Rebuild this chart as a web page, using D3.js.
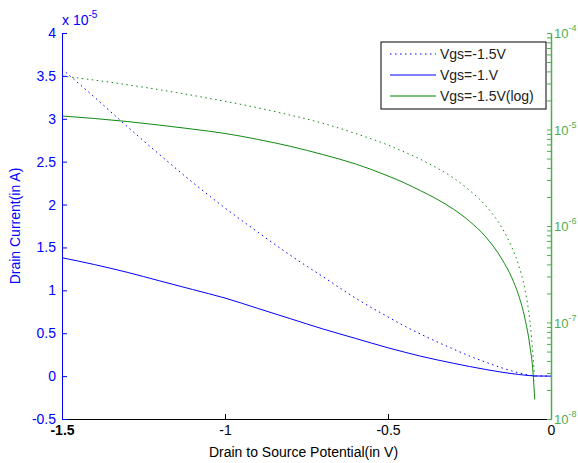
<!DOCTYPE html>
<html lang="en">
<head>
<meta charset="utf-8">
<title>Drain current</title>
<style>
  body { margin: 0; background: #fff; }
  svg { font-family: "Liberation Sans", Arial, sans-serif; }
</style>
</head>
<body>
<svg width="578" height="463"></svg>
<script src="https://d3js.org/d3.v7.min.js"></script>
<script>
// drain-source voltage (V)
var vds = [-1.5, -1.4, -1.3, -1.2, -1.1, -1.0, -0.9, -0.8, -0.7, -0.6, -0.5, -0.45, -0.4,
           -0.35, -0.3, -0.25, -0.2, -0.15, -0.12, -0.1, -0.08, -0.065, -0.055, -0.05, 0];
// drain current, units of 1e-5 A
var idVgs15 = [3.58, 3.25, 2.91, 2.58, 2.26, 1.96, 1.68, 1.41, 1.16, 0.91, 0.69, 0.585, 0.49,
               0.40, 0.316, 0.234, 0.162, 0.095, 0.060, 0.040, 0.022, 0.0105, 0.0045, 0.0025, 0];
var idVgs10 = [1.38, 1.30, 1.21, 1.11, 1.01, 0.91, 0.79, 0.67, 0.55, 0.44, 0.33, 0.28, 0.232,
               0.19, 0.15, 0.112, 0.077, 0.045, 0.029, 0.0195, 0.011, 0.0058, 0.0030, 0.0016, 0];
var xTicks = [-1.5, -1, -0.5, 0];
var yTicks = [-0.5, 0, 0.5, 1, 1.5, 2, 2.5, 3, 3.5, 4];
var logMajor = [1e-8, 1e-7, 1e-6, 1e-5, 1e-4];
var legendLabels = ["Vgs=-1.5V", "Vgs=-1.V", "Vgs=-1.5V(log)"];

var blue = "#0000ff", green = "#108a10", greenAxis = "#4fae4f";

var svg = d3.select("svg"),
    margin = {top: 33, right: 27, bottom: 44, left: 62},
    width = svg.attr("width") - margin.left - margin.right,
    height = svg.attr("height") - margin.top - margin.bottom;

var x = d3.scaleLinear().domain([-1.5, 0]).range([0, width]),
    y = d3.scaleLinear().domain([-0.5, 4]).range([height, 0]),
    yLog = d3.scaleLog().domain([1e-8, 1e-4]).range([height, 0]);

var g = svg.append("g")
  .attr("transform", "translate(" + margin.left + "," + margin.top + ")");

var pts = function(arr) { return vds.map(function(v, i) { return [v, arr[i]]; }); };

var lin = d3.line().curve(d3.curveMonotoneX)
  .x(function(d) { return x(d[0]); }).y(function(d) { return y(d[1]); });
var logLine = d3.line().curve(d3.curveMonotoneX)
  .x(function(d) { return x(d[0]); }).y(function(d) { return yLog(d[1] * 1e-5); });

// log curves (right axis)
g.append("path").datum(pts(idVgs15).filter(function(d) { return d[1] > 0; }))
  .attr("fill", "none").attr("stroke", green).attr("stroke-dasharray", "1.5,3.5")
  .attr("d", logLine);
g.append("path").datum(pts(idVgs10).filter(function(d) { return d[1] > 0; }))
  .attr("fill", "none").attr("stroke", green).attr("d", logLine);

// linear curves (left axis)
g.append("path").datum(pts(idVgs15))
  .attr("fill", "none").attr("stroke", blue).attr("stroke-dasharray", "1.5,3.5")
  .attr("d", lin);
g.append("path").datum(pts(idVgs10))
  .attr("fill", "none").attr("stroke", blue).attr("d", lin);

// axes
var ax = g.append("g")
  .attr("transform", "translate(0," + height + ")")
  .call(d3.axisBottom(x).tickValues(xTicks).tickSizeInner(-5).tickSizeOuter(0)
        .tickPadding(6).tickFormat(function(d) { return String(d); }));
ax.selectAll("text").attr("fill", "#000").style("font-size", "14px")
  .style("font-weight", function(d) { return d === -1.5 ? "bold" : "normal"; });
ax.select(".domain").attr("stroke", "#000");
ax.selectAll(".tick line").attr("stroke", "#000");

var ay = g.append("g")
  .call(d3.axisLeft(y).tickValues(yTicks).tickSizeInner(-5).tickSizeOuter(0)
        .tickPadding(6).tickFormat(function(d) { return String(d); }));
ay.selectAll("text").attr("fill", blue).style("font-size", "14px");
ay.select(".domain").attr("stroke", blue);
ay.selectAll(".tick line").attr("stroke", blue);

var ay2 = g.append("g")
  .attr("transform", "translate(" + width + ",0)")
  .call(d3.axisRight(yLog).tickValues(yLog.ticks()).tickSizeInner(-4).tickSizeOuter(0)
        .tickFormat(""));
ay2.select(".domain").attr("stroke", greenAxis).attr("stroke-width", 1.5);
ay2.selectAll(".tick line").attr("stroke", greenAxis);

var logLab = g.append("g").selectAll("text").data(logMajor).enter().append("text")
  .attr("x", width + 3).attr("y", function(d) { return yLog(d) + 5; })
  .attr("fill", greenAxis).style("font-size", "13px");
logLab.append("tspan").text("10");
logLab.append("tspan").attr("dy", -7).style("font-size", "9px")
  .text(function(d) { return String(Math.round(Math.log10(d))); });

// exponent note on left axis
var ex = g.append("text").attr("x", 0).attr("y", -8).attr("fill", blue).style("font-size", "14px");
ex.append("tspan").text("x 10");
ex.append("tspan").attr("dy", -7).style("font-size", "10px").text("-5");

// axis titles
svg.append("text")
  .attr("transform", "translate(20," + (margin.top + height / 2) + ") rotate(-90)")
  .attr("text-anchor", "middle").attr("fill", blue).style("font-size", "14px")
  .text("Drain Current(in A)");
svg.append("text")
  .attr("x", margin.left + width / 2 - 3).attr("y", 457)
  .attr("text-anchor", "middle").attr("fill", "#000").style("font-size", "14px")
  .text("Drain to Source Potential(in V)");

// legend
var leg = svg.append("g").attr("transform", "translate(381,42)");
leg.append("rect").attr("width", 165).attr("height", 67)
  .attr("fill", "#fff").attr("stroke", "#000");
var legStyles = [
  {c: blue, dash: "1.5,3.5"},
  {c: blue, dash: null},
  {c: greenAxis, dash: null}
];
var item = leg.selectAll(".item").data(legendLabels).enter().append("g")
  .attr("transform", function(d, i) { return "translate(0," + (12 + i * 21) + ")"; });
item.append("line").attr("x1", 9).attr("x2", 55)
  .attr("stroke", function(d, i) { return legStyles[i].c; })
  .attr("stroke-width", function(d, i) { return i === 2 ? 1.5 : 1; })
  .attr("stroke-dasharray", function(d, i) { return legStyles[i].dash; });
item.append("text").attr("x", 59).attr("y", 5).attr("fill", "#222")
  .style("font-size", "14px").text(function(d) { return d; });
</script>
</body>
</html>
